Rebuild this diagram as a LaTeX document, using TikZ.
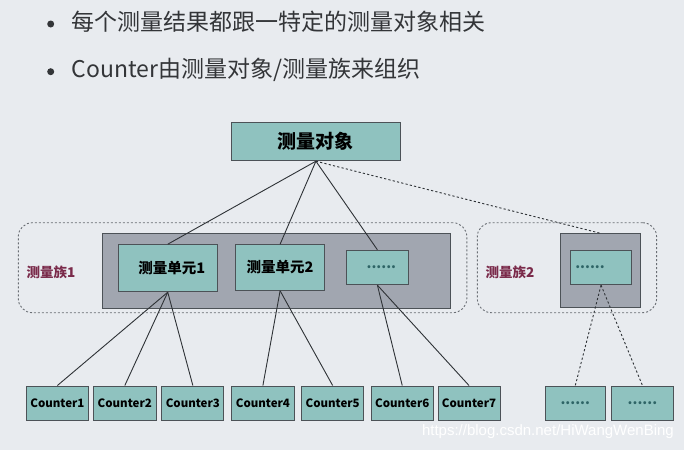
\documentclass[tikz,border=0pt]{standalone}
\usepackage{fontspec}
\setmainfont{Noto Sans CJK SC}
\newfontfamily\wmfont{Liberation Sans}
\definecolor{bgc}{HTML}{E8EBEF}
\definecolor{teal1}{HTML}{8FC2BF}
\definecolor{gray1}{HTML}{A1A6B0}
\definecolor{boxline}{HTML}{4C5257}
\definecolor{frame}{HTML}{6A6E74}
\definecolor{linec}{HTML}{2E3236}
\definecolor{famlab}{HTML}{7A2A4A}
\definecolor{dotc}{HTML}{2E6466}
\definecolor{txt}{HTML}{333538}
\begin{document}
\begin{tikzpicture}[x=1pt,y=-1pt,
  tealbox/.style={draw=boxline, fill=teal1, line width=1pt, inner sep=0pt},
  graybox/.style={draw=boxline, fill=gray1, line width=1pt, inner sep=0pt},
  famframe/.style={draw=frame, dash pattern=on 2pt off 2pt, line width=0.9pt, rounded corners=14pt, inner sep=0pt},
  link/.style={draw=linec, line width=0.9pt},
  dlink/.style={draw=linec, line width=0.9pt, dash pattern=on 2.2pt off 2.2pt},
  ctr/.style={tealbox, minimum height=34pt, font=\fontsize{11.5}{12}\selectfont\bfseries},
  famtext/.style={text=famlab, font=\fontsize{13.5}{14}\selectfont\bfseries},
  dots/.style={text=dotc, font=\fontsize{14}{14}\selectfont\bfseries},
  bullet/.style={circle, fill=txt, inner sep=0pt, minimum size=7pt},
  btext/.style={anchor=west, text=txt, inner sep=0pt, font=\fontsize{23}{24}\selectfont}]
\fill[bgc] (0,0) rectangle (684,450);
\useasboundingbox (0,0) rectangle (684,450);

% bullets
\node[bullet] (b1) at (50.7,24) {};
\node[btext] (t1) at (71.5,22) {每个测量结果都跟一特定的测量对象相关};
\node[bullet] (b2) at (50.7,71.7) {};
\node[btext] (t2) at (71.5,70) {Counter由测量对象/测量族来组织};

% top object
\node[tealbox, minimum width=168.4pt, minimum height=38pt, font=\fontsize{19}{20}\selectfont\bfseries] (obj) at (315.9,141.7) {测量对象};

% family frames
\node[famframe, minimum width=448.5pt, minimum height=90pt] (fam1) at (242.55,267.7) {};
\node[famframe, minimum width=179.3pt, minimum height=90pt] (fam2) at (566.95,267.7) {};
\node[famtext] (l1) at (51,272) {测量族1};
\node[famtext] (l2) at (510,272) {测量族2};

% gray containers
\node[graybox, minimum width=347.8pt, minimum height=74.3pt] (g1) at (276.4,270.85) {};
\node[graybox, minimum width=79.8pt, minimum height=73.6pt] (g2) at (600.1,270.5) {};

% units
\node[tealbox, minimum width=99.1pt, minimum height=47pt, font=\fontsize{14.5}{15}\selectfont\bfseries] (u1) at (167.75,268.2) {\hspace*{8pt}测量单元1};
\node[tealbox, minimum width=89pt, minimum height=45.6pt, font=\fontsize{14.5}{15}\selectfont\bfseries] (u2) at (280.1,267.5) {测量单元2};
\node[tealbox, minimum width=62.8pt, minimum height=34.4pt, dots] (u3) at (377.4,267.5) {\hspace*{8pt}......};
\node[tealbox, minimum width=61.5pt, minimum height=34.4pt, dots] (u4) at (601.05,267.5) {......\hspace*{22pt}};

% counters
\node[ctr, minimum width=62.4pt] (c1) at (57.4,403) {Counter1};
\node[ctr, minimum width=62.8pt] (c2) at (124.8,403) {Counter2};
\node[ctr, minimum width=61.9pt] (c3) at (192.85,403) {Counter3};
\node[ctr, minimum width=62.4pt] (c4) at (262.9,403) {Counter4};
\node[ctr, minimum width=61.5pt] (c5) at (332.65,403) {Counter5};
\node[ctr, minimum width=61.9pt] (c6) at (402.25,403) {Counter6};
\node[ctr, minimum width=62pt] (c7) at (469,403) {Counter7};
\node[ctr, minimum width=60.6pt, dots] (d1) at (575.3,403) {......};
\node[ctr, minimum width=61.5pt, dots] (d2) at (642.45,403) {......};

% links
\draw[link] (obj.south) -- (u1.north);
\draw[link] (obj.south) -- (u2.north);
\draw[link] (obj.south) -- (u3.north);
\draw[dlink] (obj.south) -- (g2.north);
\draw[link] (u1.south) -- (c1.north);
\draw[link] (u1.south) -- (c2.north);
\draw[link] (u1.south) -- (c3.north);
\draw[link] (u2.south) -- (c4.north);
\draw[link] (u2.south) -- (c5.north);
\draw[link] (u3.south) -- (c6.north);
\draw[link] (u3.south) -- (c7.north);
\draw[dlink] (u4.south) -- (d1.north);
\draw[dlink] (u4.south) -- (d2.north);

% watermark
\node[anchor=east, text=white, inner sep=0pt, font=\wmfont\fontsize{15}{16}\selectfont] (wm) at (674,432) {https://blog.csdn.net/HiWangWenBing};
\end{tikzpicture}
\end{document}
